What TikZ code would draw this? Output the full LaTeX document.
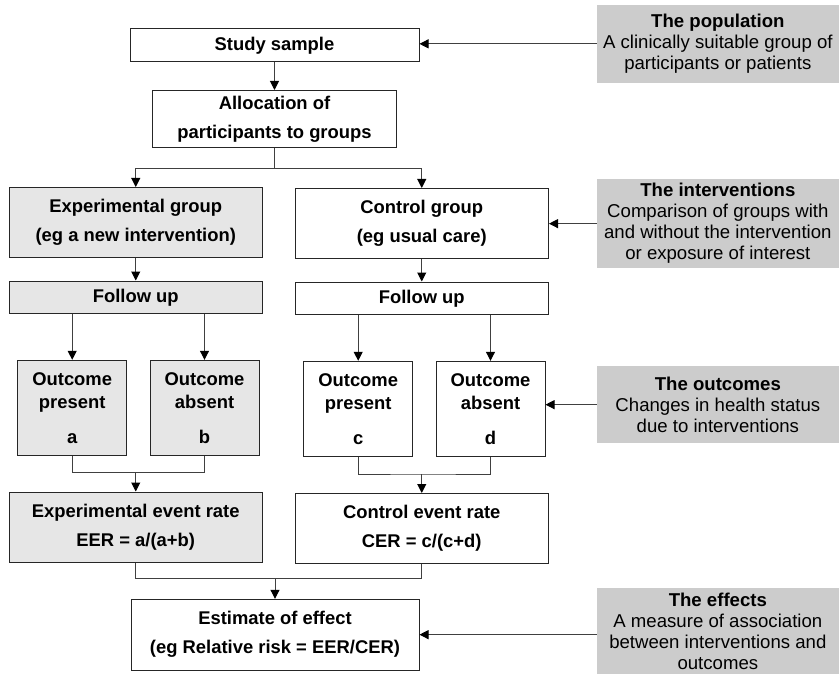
\documentclass[tikz,border=0pt]{standalone}
\usepackage{fontspec}
\setmainfont{Liberation Sans}
\usepackage{xcolor}
\usepackage{tikz}
\usetikzlibrary{arrows.meta,positioning,calc}

\definecolor{lightshade}{HTML}{E6E6E6}
\definecolor{noteshade}{HTML}{CCCCCC}

\begin{document}
\begin{tikzpicture}[
    x=1pt, y=1pt,
    box/.style={rectangle, draw=black!85, line width=1pt, fill=white, align=center, inner sep=2pt, font=\fontsize{18.4}{23}\selectfont\bfseries},
    shaded/.style={box, fill=lightshade},
    wide/.style={minimum width=253.5pt},
    outcome/.style={minimum width=109pt, minimum height=95pt},
    note/.style={rectangle, fill=noteshade, align=center, inner sep=2pt, minimum width=242.3pt, font=\fontsize{18.6}{21}\selectfont},
    link/.style={draw=black!75, line width=1pt},
    arrow/.style={link, -{Triangle[length=9pt,width=9pt,color=black]}}
]
\useasboundingbox (0,0) rectangle (839,-674);

% main column
\node [box, minimum width=289pt, minimum height=33.5pt] (sample) at (274.5,-45.25) {Study sample};
\node [box, minimum width=243.5pt, minimum height=57.5pt, below=27.5pt of sample] (alloc) {Allocation of\\[6pt]participants to groups};

% groups
\node [shaded, wide, minimum height=70pt] (expg) at (135.75,-222.5) {Experimental group\\[6pt](eg a new intervention)};
\node [box, wide, minimum height=70pt, right=31.5pt of expg.east, anchor=west, yshift=-1pt] (ctrlg) {Control group\\[6pt](eg usual care)};

\node [shaded, wide, minimum height=32.5pt, below=22.5pt of expg] (expfu) {Follow up};
\node [box, wide, minimum height=32.5pt, below=22.5pt of ctrlg] (ctrlfu) {Follow up};

% outcomes
\node [shaded, outcome, below right=45.8pt and 8.7pt of expfu.south west] (oa) {Outcome\\present\\[12pt]a};
\node [shaded, outcome, right=22.3pt of oa] (ob) {Outcome\\absent\\[12pt]b};
\node [box, outcome, below right=45.8pt and 8.7pt of ctrlfu.south west] (oc) {Outcome\\present\\[12pt]c};
\node [box, outcome, right=22.3pt of oc] (od) {Outcome\\absent\\[12pt]d};

% event rates
\node [shaded, wide, minimum height=70.5pt, below=177.5pt of expfu] (eer) {Experimental event rate\\[6pt]EER = a/(a+b)};
\node [box, wide, minimum height=70pt, below=178pt of ctrlfu] (cer) {Control event rate\\[6pt]CER = c/(c+d)};

\node [box, minimum width=288pt, minimum height=70.7pt] (est) at (275,-634.65) {Estimate of effect\\[6pt](eg Relative risk = EER/CER)};

% notes on the right
\node [note, minimum height=77.7pt] (popn) at (717.85,-43.85) {\textbf{The population}\\A clinically suitable group of\\participants or patients};
\node [note, minimum height=89.3pt] (intv) at (717.85,-223.65) {\textbf{The interventions}\\Comparison of groups with\\and without the intervention\\or exposure of interest};
\node [note, minimum height=77.3pt] (outc) at (717.85,-404.65) {\textbf{The outcomes}\\Changes in health status\\due to interventions};
\node [note, minimum height=86.3pt] (effc) at (717.85,-630.85) {\textbf{The effects}\\A measure of association\\between interventions and\\outcomes};

% join points
\coordinate (split) at ($(alloc.south)+(0,-20)$);
\coordinate (jab) at ($(eer.north)+(0,19)$);
\coordinate (jcd) at ($(cer.north)+(0,19)$);
\coordinate (jrate) at ($(est.north)+(0,20)$);

% connectors
\draw [arrow] (sample) -- (alloc);
\draw [link] (alloc.south) -- (split);
\draw [arrow] (split) -| (expg.north);
\draw [arrow] (split) -| (ctrlg.north);
\draw [arrow] (expg) -- (expfu);
\draw [arrow] (ctrlg) -- (ctrlfu);
\draw [arrow] (oa.north |- expfu.south) -- (oa.north);
\draw [arrow] (ob.north |- expfu.south) -- (ob.north);
\draw [arrow] (oc.north |- ctrlfu.south) -- (oc.north);
\draw [arrow] (od.north |- ctrlfu.south) -- (od.north);
\draw [link] (oa.south) |- (jab) -| (ob.south);
\draw [link] (oc.south) |- (jcd) -| (od.south);
\draw [arrow] (jab) -- (eer.north);
\draw [arrow] (jcd) -- (cer.north);
\draw [link] (eer.south) |- (jrate) -| (cer.south);
\draw [arrow] (jrate) -- (est.north);

\draw [arrow] (popn.west) -- (sample.east |- popn.west);
\draw [arrow] (intv.west) -- (ctrlg.east |- intv.west);
\draw [arrow] (outc.west) -- (od.east |- outc.west);
\draw [arrow] (effc.west |- est.east) -- (est.east);

\end{tikzpicture}
\end{document}
